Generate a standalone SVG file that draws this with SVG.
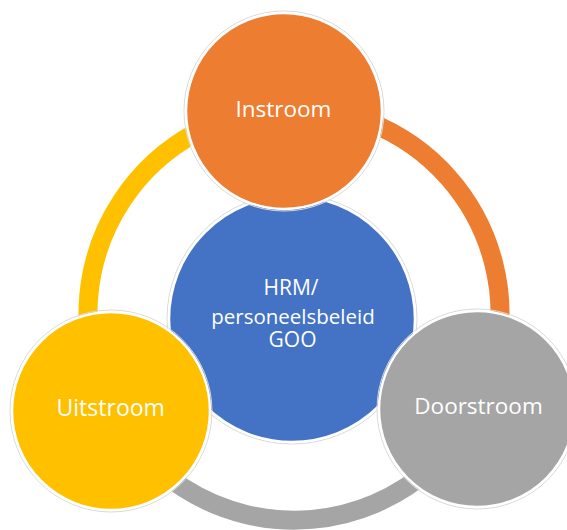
<svg xmlns="http://www.w3.org/2000/svg" width="567" height="530" viewBox="0 0 567 530">
<style>
.ring{fill:none;stroke-width:19}
.node{stroke:#ffffff;stroke-width:2.5}
.halo{fill:none;stroke:#d9d9d9;stroke-width:1}
.lbl{font-family:"Open Sans","Noto Sans","Liberation Sans",sans-serif;fill:#ffffff;text-anchor:middle}
</style>
<rect width="567" height="530" fill="#ffffff"/>
<g id="connectors">
<path class="ring" stroke="#ED7D31" d="M 283.2 108.3 A 206 206 0 0 1 496.9 349.8"/>
<path class="ring" stroke="#A5A5A5" d="M 496.9 349.8 A 206 206 0 0 1 100.4 384.5"/>
<path class="ring" stroke="#FFC000" d="M 100.4 384.5 A 206 206 0 0 1 283.2 108.3"/>
</g>
<g id="hrm">
<circle class="halo" cx="292" cy="319" r="125"/>
<circle class="node" cx="292" cy="319" r="123" fill="#4472C4"/>
<text class="lbl" x="291" y="295" font-size="21">HRM/</text>
<text class="lbl" x="293" y="324" font-size="20.5">personeelsbeleid</text>
<text class="lbl" x="292.5" y="347" font-size="21">GOO</text>
</g>
<g id="instroom">
<circle class="halo" cx="284" cy="111" r="100"/>
<circle class="node" cx="284" cy="111" r="98" fill="#ED7D31"/>
<text class="lbl" x="283.5" y="117" font-size="22.5">Instroom</text>
</g>
<g id="uitstroom">
<circle class="halo" cx="111" cy="411" r="101"/>
<circle class="node" cx="111" cy="411" r="99" fill="#FFC000"/>
<text class="lbl" x="110.7" y="415.5" font-size="23">Uitstroom</text>
</g>
<g id="doorstroom">
<circle class="halo" cx="477" cy="409" r="100"/>
<circle class="node" cx="477" cy="409" r="98" fill="#A5A5A5"/>
<text class="lbl" x="478.5" y="414" font-size="22.5">Doorstroom</text>
</g>
</svg>
